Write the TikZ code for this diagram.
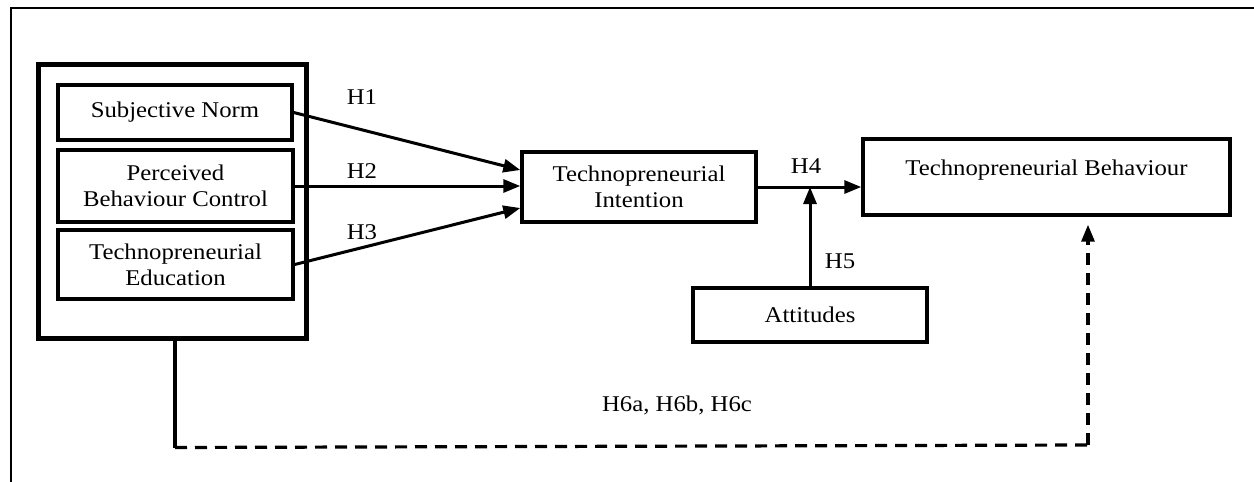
\documentclass[tikz,border=0pt]{standalone}
\usepackage{fontspec}
\setmainfont{Liberation Serif}[FakeStretch=1.1]
\usetikzlibrary{arrows.meta}
\begin{document}
\begin{tikzpicture}[x=1pt,y=-1pt,
  txt/.style={font=\fontsize{22.5}{26}\selectfont},
  box/.style={draw, line width=3.4pt, align=center, txt, inner sep=0pt},
  lbl/.style={txt, inner sep=0pt},
  arr/.style={line width=3pt, -{Triangle[length=17pt,width=13pt]}},
  dline/.style={line width=3.2pt, dash pattern=on 12pt off 8pt},
]
\useasboundingbox (0,0) rectangle (1254,482);
% frame
\draw[line width=2.8pt] (10,8) -- (1254,8);
\draw[line width=1.8pt] (11,8) -- (11,482);
% nodes
\node[box, line width=5pt, minimum width=268pt, minimum height=274pt] (outer) at (172,201) {};
\node[box, minimum width=234pt, minimum height=55pt] (sn) at (175,112.5) {Subjective Norm};
\node[box, minimum width=235pt, minimum height=72pt] (pbc) at (175.5,186) {Perceived\\Behaviour Control};
\node[box, minimum width=235pt, minimum height=69pt] (edu) at (175.5,264.5) {Technopreneurial\\Education};
\node[box, minimum width=234pt, minimum height=70pt] (ti) at (639,187) {Technopreneurial\\Intention};
\node[box, minimum width=367pt, minimum height=76pt, text depth=18pt] (tb) at (1046.5,177) {Technopreneurial Behaviour};
\node[box, minimum width=234pt, minimum height=54pt] (att) at (810,315) {Attitudes};
% labels
\node[lbl] (h1) at (362,97) {H1};
\node[lbl] (h2) at (362,171) {H2};
\node[lbl] (h3) at (362,232) {H3};
\node[lbl] (h4) at (806,166) {H4};
\node[lbl] (h5) at (840,261) {H5};
\node[lbl] (h6) at (677,405) {H6a, H6b, H6c};
% connectors
\draw[arr] (sn.east) -- ([yshift=17pt]ti.west);
\draw[arr] (pbc.east) -- (ti.west |- pbc.east);
\draw[arr] (edu.east) -- ([yshift=-21pt]ti.west);
\draw[arr] (ti.east) -- (tb.west |- ti.east);
\coordinate (j) at (att.north |- ti.east);
\draw[arr] (att.north) -- (j);
\draw[line width=3.2pt] ([xshift=3pt]outer.south) -- ++(0,107) coordinate (c1);
\coordinate (c2) at (1088,445);
\draw[dline] (c1) -- (c2);
\draw[dline, -{Triangle[length=17pt,width=13pt]}, shorten >=8pt] (c2) -- (c2 |- tb.south);
\end{tikzpicture}
\end{document}
